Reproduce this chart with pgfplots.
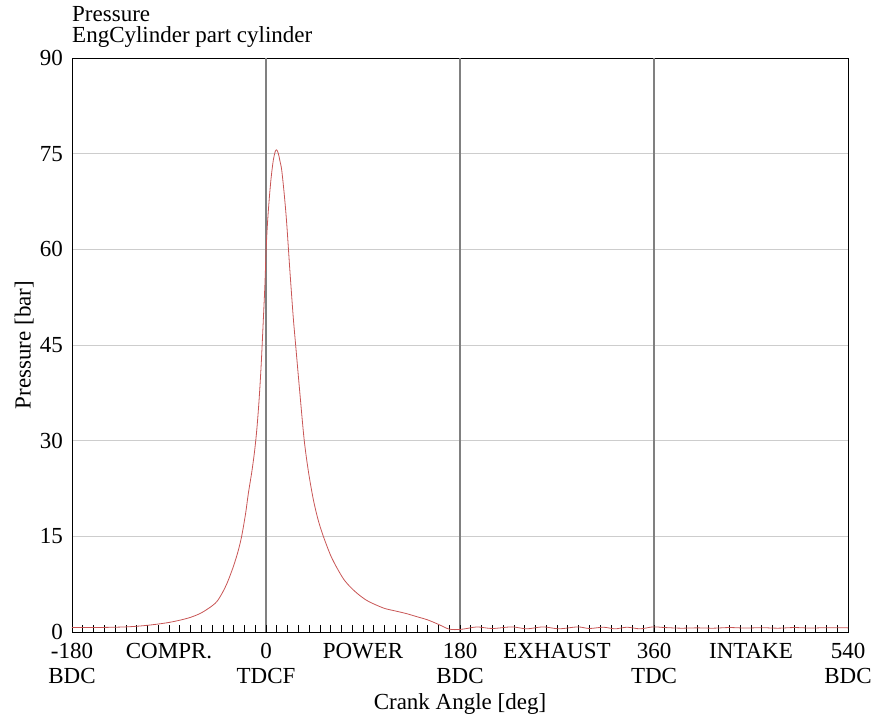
\documentclass[border=0pt]{standalone}
\usepackage{fontspec}
\setmainfont{Liberation Serif}
\usepackage{pgfplots}
\pgfplotsset{compat=1.18}
\usetikzlibrary{calc}
\definecolor{curve}{RGB}{200,85,85}
\definecolor{tdcline}{RGB}{128,128,128}
\definecolor{gridc}{RGB}{205,205,205}
\newcommand{\lbl}{\fontsize{23}{21}\selectfont}
\newcommand{\xlbl}{\fontsize{23}{25}\selectfont}

\begin{document}
\begin{tikzpicture}
\begin{axis}[scale only axis,width=776pt,height=574pt,
  xmin=-180,xmax=540,ymin=0,ymax=90,
  xtick={-180,-90,0,90,180,270,360,450,540},
  xticklabels={{-180\\BDC},{COMPR.},{0\\TDCF},{POWER},{180\\BDC},{EXHAUST},{360\\TDC},{INTAKE},{540\\BDC}},
  minor x tick num=8,
  xtick pos=bottom,ytick pos=left,tick align=inside,
  major tick length=7pt,minor tick length=7pt,
  xtick style={black,line width=0.7pt},
  minor tick style={black,line width=0.7pt},
  ytick={0,15,...,90},ytick style={draw=none},
  /pgf/number format/assume math mode=true,
  tick label style={font=\lbl},
  x tick label style={font=\xlbl,align=center,anchor=north,inner sep=0pt,yshift=-11pt},
  y tick label style={anchor=east,inner sep=0pt,xshift=-9pt},
  ymajorgrids,grid style={gridc,line width=0.8pt},
  extra x ticks={0,180,360},extra x tick labels={},
  extra x tick style={grid=major,major grid style={tdcline,line width=1.5pt}},
  axis line style={line width=0.9pt},
  xlabel={Crank Angle [deg]},
  xlabel style={font=\lbl,at={(axis description cs:0.5,0)},anchor=north,inner sep=0pt,yshift=-61pt},
  ylabel={Pressure [bar]},
  ylabel style={font=\lbl,at={(axis description cs:0,0.5)},anchor=south,inner sep=0pt,yshift=38pt},
  title={Pressure\\EngCylinder part cylinder},
  title style={font=\lbl,at={(axis description cs:0,1)},anchor=south west,align=left,inner sep=0pt,yshift=4pt},
]
\addplot[curve,line width=0.8pt,smooth] coordinates {
(-180,0.7)(-170,0.7)(-160,0.7)(-150,0.72)(-140,0.75)(-130,0.8)(-120,0.9)(-110,1.05)
(-100,1.25)(-90,1.5)(-80,1.85)(-70,2.3)(-60,3.0)(-50,4.1)(-45,4.9)(-40,6.3)
(-36,7.7)(-33,9.0)(-30,10.4)(-26,12.6)(-22.6,15)(-19,18.5)(-16.4,21.7)(-13,25.3)
(-10.5,28.5)(-8.5,31.8)(-6.5,36.2)(-4.5,41.8)(-2.5,48.9)(-1,54.5)(0,59.5)(1.2,63.6)
(2.5,66.8)(3.7,69.3)(5,71.6)(6.8,74)(8.5,75.3)(9.9,75.6)(11.5,75.0)(13,73.8)(14.6,72.4)
(17,68.5)(19.2,64.1)(22.3,56.3)(25.3,49.3)(27.5,45)(31.5,37.3)(35.5,30)(39.5,25)
(44,20.7)(48.5,17.5)(53.2,15)(60,12)(66,10)(72,8.3)(78,7.1)(85,6)(93,5)(100,4.4)
(110,3.7)(120,3.3)(130,2.9)(140,2.4)(150,1.9)(160,1.2)(170,0.45)(180,0.4)(188,0.6)
(196,0.8)(210,0.55)(228,0.8)(242,0.5)(257,0.8)(272,0.5)(289,0.8)(300,0.55)(313,0.75)
(324,0.5)(335,0.75)(347,0.5)(359,0.8)(370,0.7)(385,0.6)(400,0.65)(415,0.6)(430,0.7)
(445,0.62)(460,0.68)(475,0.6)(490,0.7)(505,0.62)(520,0.68)(540,0.65)
};
\end{axis}
\pgfresetboundingbox
\path[use as bounding box] ($(current axis.south west)+(-72pt,-85pt)$) rectangle ($(current axis.north east)+(31pt,58pt)$);
\end{tikzpicture}
\end{document}
